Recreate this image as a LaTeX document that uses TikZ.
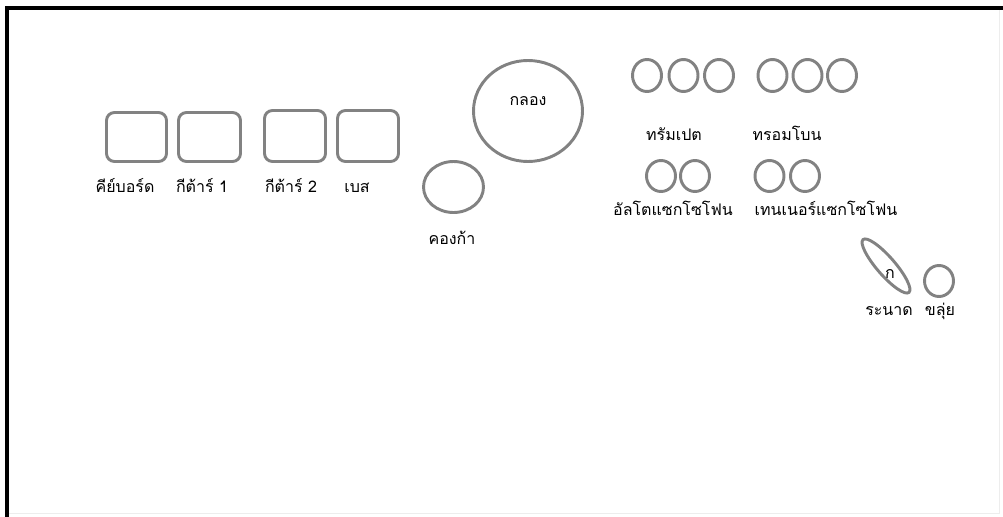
\documentclass[tikz,border=0pt]{standalone}
\usepackage{fontspec}
\newfontfamily\thaifont[Script=Thai]{Loma}
\definecolor{sikhob}{RGB}{130,130,130}
\begin{document}
\begin{tikzpicture}[x=0.75pt, y=-0.75pt,
    kheuang/.style={draw=sikhob, line width=2.2pt},
    pai/.style={anchor=base, inner sep=0pt, font=\thaifont\fontsize{12}{14}\selectfont}]
    % 1. กรอบเวที
    \useasboundingbox (0,0) rectangle (1003,517);
    \draw[black!7, line width=0.75pt] (999,8) -- (999,513) -- (6.5,513);
    \draw[black, line width=3pt] (6.5,517) -- (6.5,8) -- (1003,8);

    % 2. คีย์บอร์ด กีต้าร์ เบส
    \foreach \xa/\xb/\ya in {106.5/166.5/112.5, 178.5/240.5/112.5, 264.5/325.5/110.5, 337.5/398.5/110.5}
        \draw[kheuang, rounded corners=6pt] (\xa,\ya) rectangle (\xb,161.5);
    \node[pai] (keyboard) at (125,192) {คีย์บอร์ด};
    \node[pai] (guitarA) at (202,192) {กีต้าร์ 1};
    \node[pai] (guitarB) at (291,192) {กีต้าร์ 2};
    \node[pai] (bass) at (357,192) {เบส};

    % 3. กลอง คองก้า
    \draw[kheuang] (528,111) ellipse [x radius=54.5, y radius=50.5];
    \node[pai] (drum) at (528,105) {กลอง};
    \draw[kheuang] (453.5,187) ellipse [x radius=30, y radius=25.5];
    \node[pai] (conga) at (452,244) {คองก้า};

    % 4. เครื่องเป่า
    \foreach \cx in {647, 683.5, 719, 772.5, 807.5, 842}
        \draw[kheuang] (\cx,75.5) ellipse [x radius=14.5, y radius=16];
    \node[pai] (trumpet) at (674,140) {ทรัมเปต};
    \node[pai] (trombone) at (787,140) {ทรอมโบน};
    \foreach \cx in {661, 695, 769.5, 805}
        \draw[kheuang] (\cx,176) ellipse [x radius=14.5, y radius=15.5];
    \node[pai] (alto) at (673,215) {อัลโตแซกโซโฟน};
    \node[pai] (tenor) at (826,215) {เทนเนอร์แซกโซโฟน};

    % 5. ระนาด ขลุ่ย
    \draw[kheuang, rotate around={-49:(886,266)}] (886,266) ellipse [x radius=35, y radius=9];
    \node[pai] (ko) at (890,278) {ก};
    \node[pai] (ranat) at (889,315) {ระนาด};
    \draw[kheuang] (939,281) ellipse [x radius=14.5, y radius=15.5];
    \node[pai] (khlui) at (940,315) {ขลุ่ย};
\end{tikzpicture}
\end{document}
